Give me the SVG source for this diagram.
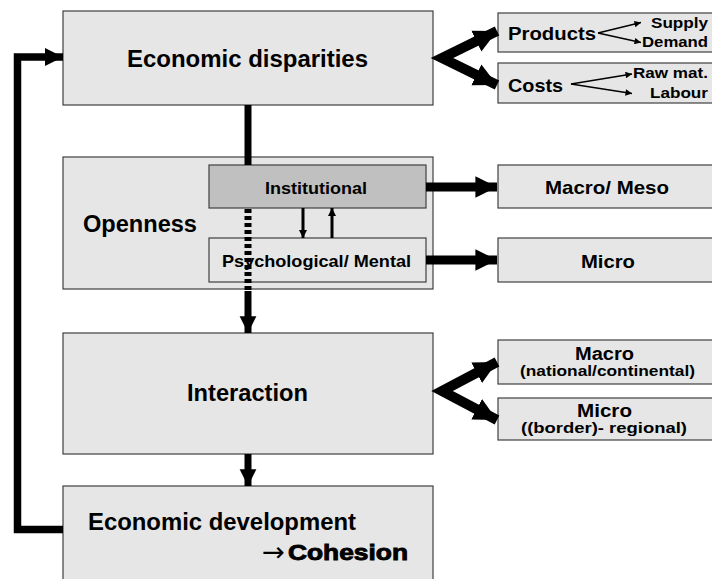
<svg xmlns="http://www.w3.org/2000/svg" width="712" height="579" viewBox="0 0 712 579">
<style>
.box{fill:#e6e6e6;stroke:#404040;stroke-width:1.2}
.inst{fill:#c0c0c0;stroke:#404040;stroke-width:1.2}
text{font-family:"Liberation Sans",Arial,sans-serif;font-weight:bold;fill:#000}
.big{font-size:23px}
.mid{font-size:19px}
.m2{font-size:17.5px}
.sm{font-size:16.5px}
.xs{font-size:14px}
.thick{stroke:#000;fill:none}
.thin{stroke:#000;fill:none;stroke-width:1.3}
</style>
<defs>
<marker id="ah" viewBox="0 0 10 10" refX="10" refY="5" markerWidth="2.4" markerHeight="2.5" orient="auto" markerUnits="strokeWidth">
<path d="M0,0 L10,5 L0,10 z" fill="#000"/>
</marker>
<marker id="ahm" viewBox="0 0 10 10" refX="10" refY="5" markerWidth="2.3" markerHeight="2.6" orient="auto-start-reverse" markerUnits="strokeWidth">
<path d="M0,0 L10,5 L0,10 z" fill="#000"/>
</marker>
<marker id="ahs" viewBox="0 0 10 10" refX="10" refY="5" markerWidth="2.8" markerHeight="2.8" orient="auto" markerUnits="strokeWidth">
<path d="M0,0 L10,5 L0,10 z" fill="#000"/>
</marker>
<marker id="aht" viewBox="0 0 10 10" refX="10" refY="5" markerWidth="6" markerHeight="5" orient="auto" markerUnits="strokeWidth">
<path d="M0,0 L10,5 L0,10 z" fill="#000"/>
</marker>
</defs>

<g id="n-disparities">
<rect class="box" x="63" y="11" width="370" height="94"/>
<text class="big" x="127" y="67" textLength="241" lengthAdjust="spacingAndGlyphs">Economic disparities</text>
</g>
<g id="n-openness">
<rect class="box" x="63" y="157" width="370" height="132"/>
<text class="big" x="83" y="232" textLength="114" lengthAdjust="spacingAndGlyphs">Openness</text>
</g>
<g id="n-institutional">
<rect class="inst" x="209" y="165" width="217" height="43"/>
<text class="sm" x="265" y="194" textLength="102" lengthAdjust="spacingAndGlyphs">Institutional</text>
</g>
<g id="n-psych">
<rect class="box" x="209" y="238" width="217" height="44"/>
<text class="sm" x="222" y="266.5" textLength="189" lengthAdjust="spacingAndGlyphs">Psychological/ Mental</text>
</g>
<g id="n-interaction">
<rect class="box" x="63" y="333" width="370" height="121"/>
<text class="big" x="187" y="401" textLength="121" lengthAdjust="spacingAndGlyphs">Interaction</text>
</g>
<g id="n-development">
<rect class="box" x="63" y="486" width="370" height="100"/>
<text class="big" x="88" y="530" textLength="268" lengthAdjust="spacingAndGlyphs">Economic development</text>
<text x="262" y="561" textLength="23" lengthAdjust="spacingAndGlyphs" style="font-family:'DejaVu Sans',sans-serif;font-weight:normal;font-size:27px">→</text>
<text x="288" y="560" textLength="120" lengthAdjust="spacingAndGlyphs" stroke="#000" stroke-width="0.9" style="font-size:22.5px">Cohesion</text>
</g>
<g id="n-products">
<rect class="box" x="498" y="13" width="220" height="39"/>
<text class="mid" x="508" y="39.5" textLength="88" lengthAdjust="spacingAndGlyphs">Products</text>
<text class="xs" x="651" y="27.5" textLength="57" lengthAdjust="spacingAndGlyphs">Supply</text>
<text class="xs" x="642" y="47" textLength="66" lengthAdjust="spacingAndGlyphs">Demand</text>
</g>
<g id="n-costs">
<rect class="box" x="498" y="63" width="220" height="40"/>
<text class="mid" x="508" y="91.5" textLength="55" lengthAdjust="spacingAndGlyphs">Costs</text>
<text class="xs" x="633" y="78" textLength="75" lengthAdjust="spacingAndGlyphs">Raw mat.</text>
<text class="xs" x="650" y="98" textLength="58" lengthAdjust="spacingAndGlyphs">Labour</text>
</g>
<g id="n-macromeso">
<rect class="box" x="498" y="165" width="220" height="43"/>
<text class="mid" x="545" y="193.5" textLength="124" lengthAdjust="spacingAndGlyphs">Macro/ Meso</text>
</g>
<g id="n-micro">
<rect class="box" x="498" y="238" width="220" height="44"/>
<text class="mid" x="581" y="267.5" textLength="54" lengthAdjust="spacingAndGlyphs">Micro</text>
</g>
<g id="n-macro2">
<rect class="box" x="498" y="340" width="220" height="44"/>
<text class="m2" x="575" y="360" textLength="59" lengthAdjust="spacingAndGlyphs">Macro</text>
<text class="xs" x="520" y="376" textLength="175" lengthAdjust="spacingAndGlyphs">(national/continental)</text>
</g>
<g id="n-micro2">
<rect class="box" x="498" y="398" width="220" height="42"/>
<text class="m2" x="577" y="417" textLength="55" lengthAdjust="spacingAndGlyphs">Micro</text>
<text class="xs" x="521" y="433" textLength="166" lengthAdjust="spacingAndGlyphs">((border)- regional)</text>
</g>

<g id="connectors">
<line class="thick" x1="248" y1="105" x2="248" y2="165" stroke-width="7"/>
<line class="thick" x1="248" y1="209" x2="248" y2="291" stroke-width="7" stroke-dasharray="4,3"/>
<line class="thick" x1="248" y1="291" x2="248" y2="333" stroke-width="7" marker-end="url(#ah)"/>
<line class="thick" x1="248" y1="454" x2="248" y2="486" stroke-width="7" marker-end="url(#ah)"/>
<line class="thick" x1="303" y1="208" x2="303" y2="238" stroke-width="3" marker-end="url(#ahs)"/>
<line class="thick" x1="332" y1="238" x2="332" y2="208" stroke-width="3" marker-end="url(#ahs)"/>
<polyline class="thick" points="63,529.5 17.5,529.5 17.5,57 63,57" stroke-width="7.5" marker-end="url(#ah)"/>
<polyline class="thick" points="497,31 442,58 497,85" stroke-width="10" stroke-linejoin="miter" marker-start="url(#ahm)" marker-end="url(#ahm)"/>
<line class="thick" x1="426" y1="187" x2="497" y2="187" stroke-width="9" marker-end="url(#ah)"/>
<line class="thick" x1="426" y1="260" x2="497" y2="260" stroke-width="9" marker-end="url(#ah)"/>
<polyline class="thick" points="497,362 442,391 497,420" stroke-width="10" stroke-linejoin="miter" marker-start="url(#ahm)" marker-end="url(#ahm)"/>
<line class="thin" x1="598" y1="33" x2="641" y2="22.5" marker-end="url(#aht)"/>
<line class="thin" x1="598" y1="33" x2="641" y2="42.5" marker-end="url(#aht)"/>
<line class="thin" x1="571" y1="84" x2="632" y2="74" marker-end="url(#aht)"/>
<line class="thin" x1="571" y1="84" x2="632" y2="93.5" marker-end="url(#aht)"/>
</g>
</svg>
